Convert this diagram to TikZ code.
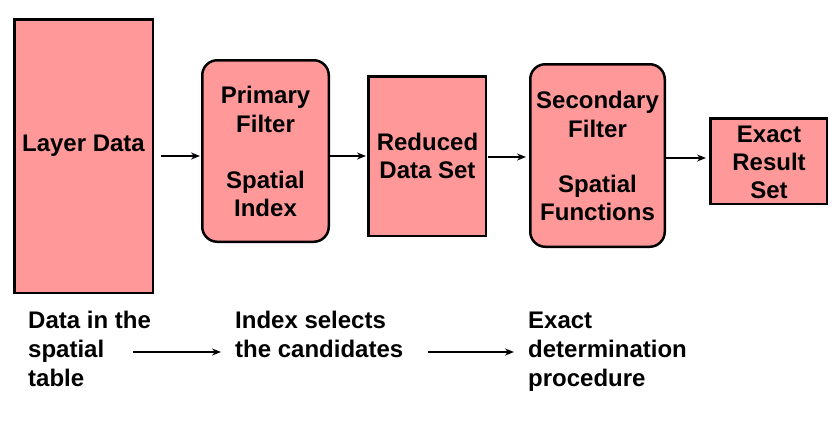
\documentclass[tikz,border=0pt]{standalone}
\usepackage{fontspec}
\setmainfont{Liberation Sans}
\usetikzlibrary{arrows.meta}
\definecolor{boxpink}{RGB}{255,153,153}
\begin{document}
\begin{tikzpicture}[x=1pt,y=-1pt,
  box/.style={draw, line width=2.5pt, fill=boxpink, inner sep=0pt},
  rbox/.style={box, rounded corners=15pt},
  lbl/.style={font=\bfseries\fontsize{24}{29}\selectfont, inner sep=0pt, anchor=base},
  llbl/.style={lbl, anchor=base west},
  arr/.style={line width=2pt, -{Stealth[length=9pt,width=7pt]}}]
\useasboundingbox (0,0) rectangle (840,432);
% boxes
\node[box, minimum width=138.5, minimum height=273.5] (layer) at (83.5,156) {};
\node[rbox, minimum width=126.5, minimum height=181.5] (prim) at (265.5,151) {};
\node[box, minimum width=117.5, minimum height=159.5] (red) at (427,156) {};
\node[rbox, minimum width=134.5, minimum height=182.5] (sec) at (597.5,155.5) {};
\node[box, minimum width=116.5, minimum height=85.5] (exact) at (768.5,161) {};
% box texts
\node[lbl] (tlayer) at (83.5,151) {Layer Data};
\node[lbl] (tp1) at (265.5,103) {Primary};
\node[lbl] (tp2) at (265.5,132) {Filter};
\node[lbl] (tp3) at (265.5,188) {Spatial};
\node[lbl] (tp4) at (265.5,216) {Index};
\node[lbl] (tr1) at (427.5,150) {Reduced};
\node[lbl] (tr2) at (427.5,178) {Data Set};
\node[lbl] (ts1) at (597.5,108) {Secondary};
\node[lbl] (ts2) at (597.5,137) {Filter};
\node[lbl] (ts3) at (597.5,192) {Spatial};
\node[lbl] (ts4) at (597.5,220) {Functions};
\node[lbl] (te1) at (769,142) {Exact};
\node[lbl] (te2) at (769,170) {Result};
\node[lbl] (te3) at (769,198) {Set};
% arrows between boxes
\draw[arr, shorten <=7pt, shorten >=1pt] (layer.east |- 0,156) -- (prim.west |- 0,156);
\draw[arr, shorten >=1pt] (prim.east |- 0,156) -- (red.west |- 0,156);
\draw[arr, shorten <=1pt, shorten >=3pt] (red.east |- 0,157) -- (sec.west |- 0,157);
\draw[arr, shorten >=3pt] (sec.east |- 0,158) -- (exact.west |- 0,158);
% bottom texts
\node[llbl] (b1) at (28,328) {Data in the};
\node[llbl] (b2) at (28,357) {spatial};
\node[llbl] (b3) at (28,386) {table};
\node[llbl] (c1) at (235,328) {Index selects};
\node[llbl] (c2) at (235,357) {the candidates};
\node[llbl] (d1) at (528,328) {Exact};
\node[llbl] (d2) at (528,357) {determination};
\node[llbl] (d3) at (528,386) {procedure};
% bottom arrows
\coordinate (a1s) at (133,352);
\coordinate (a1e) at (221,352);
\coordinate (a2s) at (428,352);
\coordinate (a2e) at (514,352);
\draw[arr] (a1s) -- (a1e);
\draw[arr] (a2s) -- (a2e);
\end{tikzpicture}
\end{document}
